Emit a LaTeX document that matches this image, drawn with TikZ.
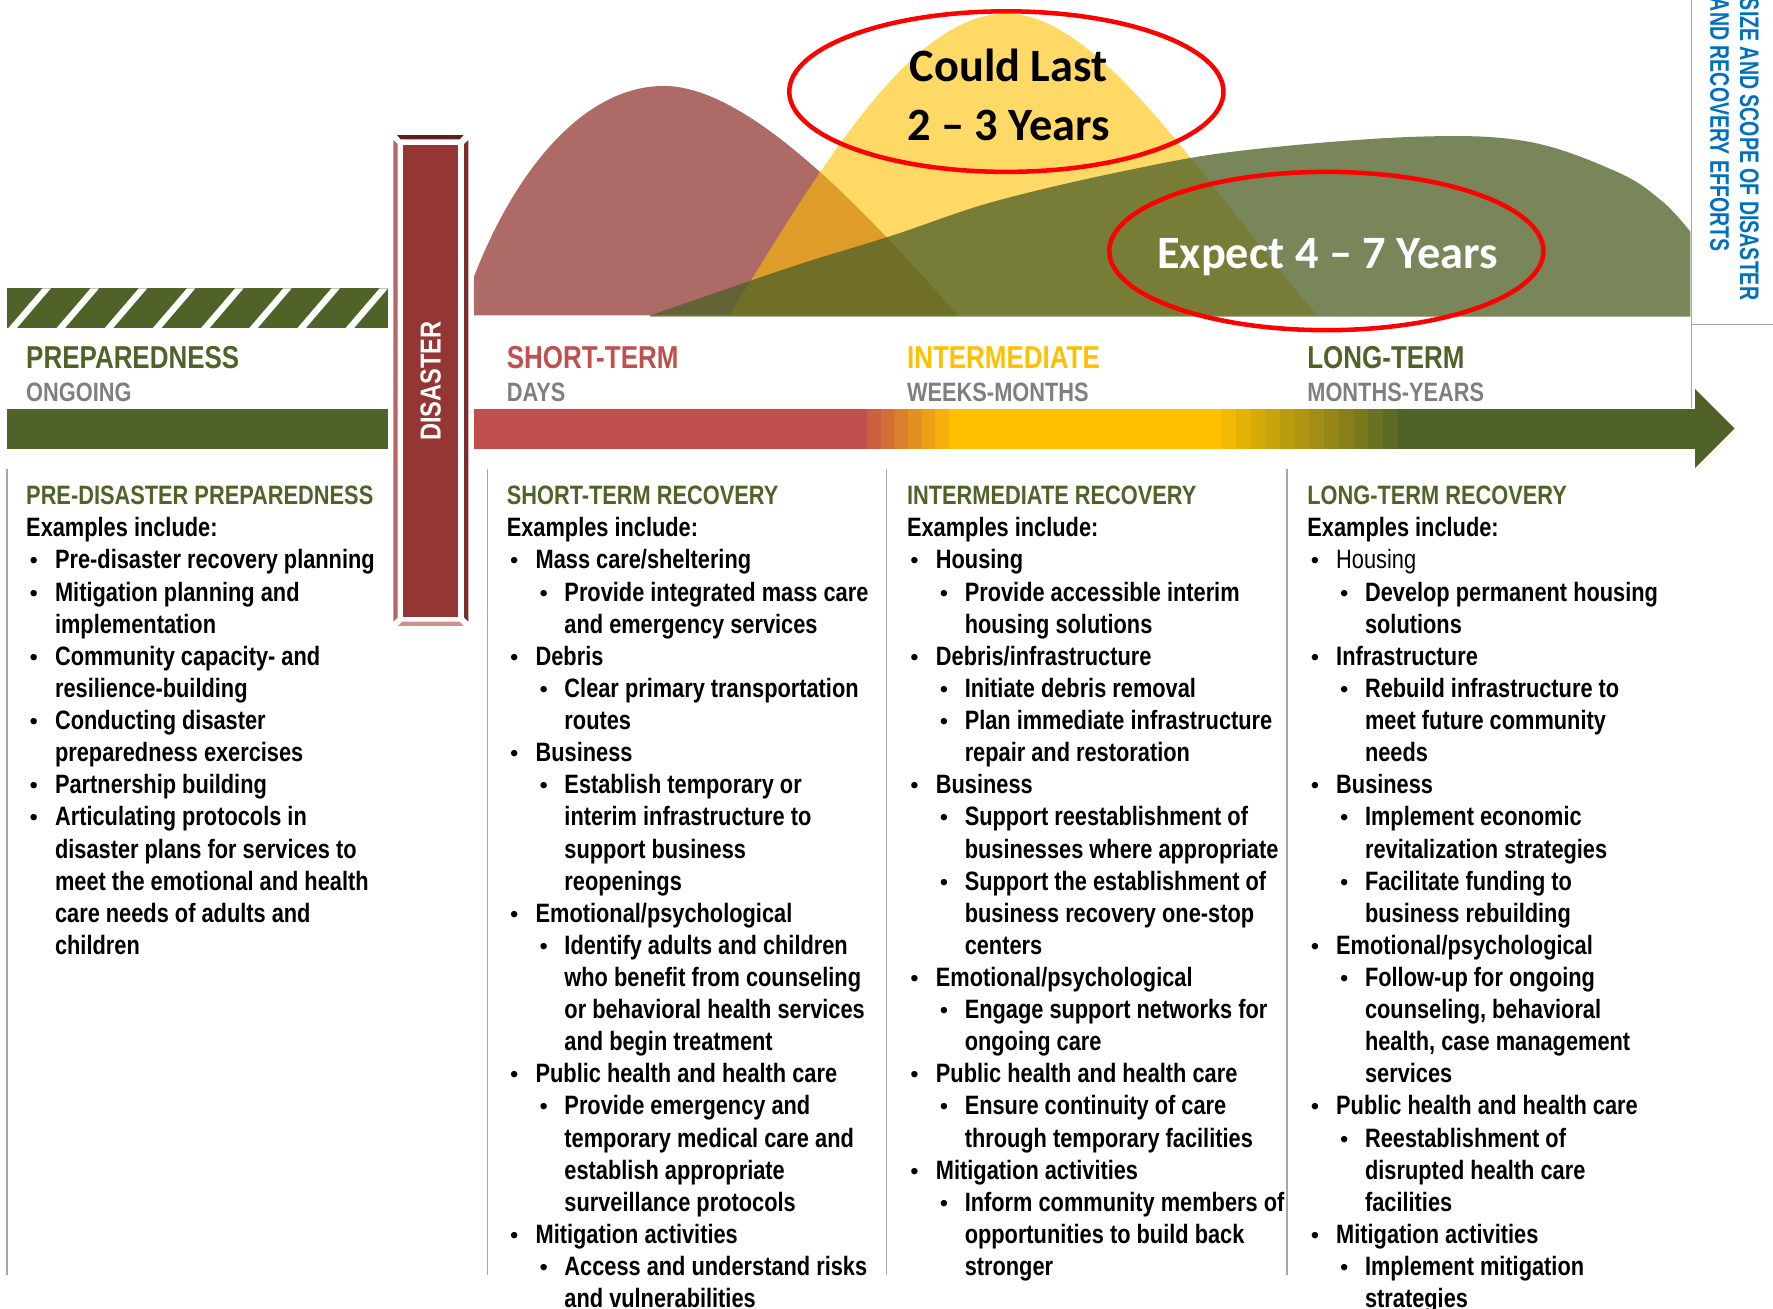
\documentclass[tikz,border=0pt]{standalone}
\usepackage{fontspec}
\setmainfont{Liberation Sans}
\newfontfamily\narfont{Liberation Sans}[FakeStretch=0.82]
\newfontfamily\narrowerfont{Liberation Sans}[FakeStretch=0.73]
\newfontfamily\calfont{Carlito}
\definecolor{dgreen}{HTML}{4F6228}
\definecolor{sred}{HTML}{C0504D}
\definecolor{syel}{HTML}{FFC000}
\definecolor{sgray}{HTML}{7F7F7F}
\definecolor{sblue}{HTML}{0070C0}
\definecolor{hillred}{RGB}{174,106,103}
\definecolor{pillar}{HTML}{943634}
\definecolor{pilL}{RGB}{183,101,101}
\definecolor{pilR}{RGB}{123,44,43}
\definecolor{pilT}{RGB}{94,30,30}
\definecolor{pilB}{RGB}{208,144,144}
\definecolor{sepgray}{HTML}{A6A6A6}
\tikzset{
  body/.style={font=\narfont\bfseries\fontsize{23.5}{28.4}\selectfont, inner sep=0pt, anchor=base west, text=black},
  bul/.style={font=\fontsize{21}{28}\selectfont, inner sep=0pt, anchor=base west, text=black},
  big/.style={font=\narfont\bfseries\fontsize{28}{30}\selectfont, inner sep=0pt, anchor=base west},
  sub/.style={font=\narfont\bfseries\fontsize{23.5}{28}\selectfont, inner sep=0pt, anchor=base west, text=sgray},
  sep/.style={draw=sepgray, line width=1.5pt},
  oval/.style={draw=red, line width=4pt},
  ovtxt/.style={font=\calfont\bfseries\fontsize{41}{52}\selectfont, inner sep=0pt, align=center},
}
\newcommand\Lh[4]{\node[body,text=dgreen] (#1) at (#2,{446.4+28.4*(#3)}) {#4};}
\newcommand\Lx[4]{\node[body] (#1) at (#2,{446.4+28.4*(#3)}) {#4};}
\newcommand\Lb[4]{\node[bul] (#1b) at ({#2+3},{446.4+28.4*(#3)}) {•};\node[body] (#1) at ({#2+25.5},{446.4+28.4*(#3)}) {#4};}
\newcommand\Lc[4]{\node[body] (#1) at ({#2+25.5},{446.4+28.4*(#3)}) {#4};}
\newcommand\Ls[4]{\node[bul] (#1b) at ({#2+29},{446.4+28.4*(#3)}) {•};\node[body] (#1) at ({#2+51},{446.4+28.4*(#3)}) {#4};}
\newcommand\Lt[4]{\node[body] (#1) at ({#2+51},{446.4+28.4*(#3)}) {#4};}
\begin{document}
\begin{tikzpicture}[x=1pt,y=-1pt]
\useasboundingbox (0,0) rectangle (1568,1157);
% ---------- hills ----------
\fill[hillred] (419,279) -- (419,245) .. controls (460,140) and (522,76) .. (587,76) .. controls (660,76) and (760,180) .. (847,279) -- cycle;
\fill[syel,opacity=0.6] (645,279) .. controls (725,150) and (805,12) .. (890,12) .. controls (975,12) and (1070,170) .. (1165,279) -- cycle;
\fill[dgreen,opacity=0.77] plot[smooth,tension=0.6] coordinates {(575,279) (700,236) (790,208) (880,178) (1000,150) (1100,133) (1250,121) (1350,125) (1430,152) (1470,178) (1495,205)} -- (1495,280) -- (575,280) -- cycle;
% ---------- ellipses ----------
\draw[oval] (890,81) ellipse [x radius=192, y radius=71];
\node[ovtxt,text=black] (could) at (892,84) {Could Last\\2 – 3 Years};
\draw[oval] (1173,222) ellipse [x radius=192, y radius=70];
\node[ovtxt,text=white] (expect) at (1174,227) {Expect 4 – 7 Years};
% ---------- right axis ----------
\draw[sep] (1496,0) -- (1496,361);
\draw[sep] (1496,287) -- (1568,287);
\node[font=\narrowerfont\bfseries\fontsize{23.7}{25}\selectfont, text=sblue, inner sep=0pt, anchor=base west, rotate=-90] (axisA) at (1539,-2) {SIZE AND SCOPE OF DISASTER};
\node[font=\narrowerfont\bfseries\fontsize{23.7}{25}\selectfont, text=sblue, inner sep=0pt, anchor=base west, rotate=-90] (axisB) at (1512.5,-2) {AND RECOVERY EFFORTS};
% ---------- preparedness bars ----------
\begin{scope}
\clip (6,255) rectangle (343,290);
\fill[dgreen] (6,255) rectangle (343,290);
\foreach \k in {0,...,8} {
  \fill[white] ({7.5+42.6*\k},290) -- ({15+42.6*\k},290) -- ({45+42.6*\k},255) -- ({37.5+42.6*\k},255) -- cycle;
}
\end{scope}
\fill[dgreen] (6,362) rectangle (343,397);
% ---------- timeline bar ----------
\fill[sred] (419,362) rectangle (767.5,397);
\foreach \k in {1,...,6} {
  \pgfmathtruncatemacro\p{100*\k/7}
  \fill[syel!\p!sred] ({767+12*(\k-1)},362) rectangle ({767.5+12*\k},397);
}
\fill[syel] (839,362) rectangle (1080.5,397);
\foreach \k in {1,...,12} {
  \pgfmathtruncatemacro\p{100*\k/13}
  \fill[dgreen!\p!syel] ({1080+13*(\k-1)},362) rectangle ({1080.5+13*\k},397);
}
\fill[dgreen] (1236,362) rectangle (1500,397);
\fill[dgreen] (1499,344) -- (1534,379) -- (1499,414) -- cycle;
% ---------- disaster pillar ----------
\fill[pilT] (351,119.4) -- (410,119.4) -- (406.5,123.3) -- (354.5,123.3) -- cycle;
\fill[pilL] (347.9,123.8) -- (351.7,127.4) -- (351.7,546) -- (347.9,549.8) -- cycle;
\fill[pilR] (414.2,123.8) -- (410.4,127.4) -- (410.4,546) -- (414.2,549.8) -- cycle;
\fill[pillar] (356.7,128.2) rectangle (405.3,545.4);
\fill[pilB] (355.5,549.8) -- (406.5,549.8) -- (410,553.6) -- (352,553.6) -- cycle;
\node[font=\narfont\bfseries\fontsize{25.5}{28}\selectfont, text=white, inner sep=0pt, rotate=90] (dis) at (381,337) {DISASTER};
% ---------- phase labels ----------
\node[big,text=dgreen] (prep) at (23,326) {PREPAREDNESS};
\node[sub] (ongoing) at (23,355.5) {ONGOING};
\node[big,text=sred] (short) at (448,326) {SHORT-TERM};
\node[sub] (days) at (448,355.5) {DAYS};
\node[big,text=syel] (inter) at (802,326) {INTERMEDIATE};
\node[sub] (weeks) at (802,355.5) {WEEKS-MONTHS};
\node[big,text=dgreen] (long) at (1156,326) {LONG-TERM};
\node[sub] (months) at (1156,355.5) {MONTHS-YEARS};
% ---------- separators ----------
\draw[sep] (6,415) -- (6,1128);
\draw[sep] (431,415) -- (431,1128);
\draw[sep] (784,415) -- (784,1128);
\draw[sep] (1138,415) -- (1138,1128);
% ---------- column 1 ----------
\Lh{a0}{23}{0}{PRE-DISASTER PREPAREDNESS}
\Lx{a1}{23}{1}{Examples include:}
\Lb{a2}{23}{2}{Pre-disaster recovery planning}
\Lb{a3}{23}{3}{Mitigation planning and}
\Lc{a4}{23}{4}{implementation}
\Lb{a5}{23}{5}{Community capacity- and}
\Lc{a6}{23}{6}{resilience-building}
\Lb{a7}{23}{7}{Conducting disaster}
\Lc{a8}{23}{8}{preparedness exercises}
\Lb{a9}{23}{9}{Partnership building}
\Lb{a10}{23}{10}{Articulating protocols in}
\Lc{a11}{23}{11}{disaster plans for services to}
\Lc{a12}{23}{12}{meet the emotional and health}
\Lc{a13}{23}{13}{care needs of adults and}
\Lc{a14}{23}{14}{children}
% ---------- column 2 ----------
\Lh{b0}{448}{0}{SHORT-TERM RECOVERY}
\Lx{b1}{448}{1}{Examples include:}
\Lb{b2}{448}{2}{Mass care/sheltering}
\Ls{b3}{448}{3}{Provide integrated mass care}
\Lt{b4}{448}{4}{and emergency services}
\Lb{b5}{448}{5}{Debris}
\Ls{b6}{448}{6}{Clear primary transportation}
\Lt{b7}{448}{7}{routes}
\Lb{b8}{448}{8}{Business}
\Ls{b9}{448}{9}{Establish temporary or}
\Lt{b10}{448}{10}{interim infrastructure to}
\Lt{b11}{448}{11}{support business}
\Lt{b12}{448}{12}{reopenings}
\Lb{b13}{448}{13}{Emotional/psychological}
\Ls{b14}{448}{14}{Identify adults and children}
\Lt{b15}{448}{15}{who benefit from counseling}
\Lt{b16}{448}{16}{or behavioral health services}
\Lt{b17}{448}{17}{and begin treatment}
\Lb{b18}{448}{18}{Public health and health care}
\Ls{b19}{448}{19}{Provide emergency and}
\Lt{b20}{448}{20}{temporary medical care and}
\Lt{b21}{448}{21}{establish appropriate}
\Lt{b22}{448}{22}{surveillance protocols}
\Lb{b23}{448}{23}{Mitigation activities}
\Ls{b24}{448}{24}{Access and understand risks}
\Lt{b25}{448}{25}{and vulnerabilities}
% ---------- column 3 ----------
\Lh{c0}{802}{0}{INTERMEDIATE RECOVERY}
\Lx{c1}{802}{1}{Examples include:}
\Lb{c2}{802}{2}{Housing}
\Ls{c3}{802}{3}{Provide accessible interim}
\Lt{c4}{802}{4}{housing solutions}
\Lb{c5}{802}{5}{Debris/infrastructure}
\Ls{c6}{802}{6}{Initiate debris removal}
\Ls{c7}{802}{7}{Plan immediate infrastructure}
\Lt{c8}{802}{8}{repair and restoration}
\Lb{c9}{802}{9}{Business}
\Ls{c10}{802}{10}{Support reestablishment of}
\Lt{c11}{802}{11}{businesses where appropriate}
\Ls{c12}{802}{12}{Support the establishment of}
\Lt{c13}{802}{13}{business recovery one-stop}
\Lt{c14}{802}{14}{centers}
\Lb{c15}{802}{15}{Emotional/psychological}
\Ls{c16}{802}{16}{Engage support networks for}
\Lt{c17}{802}{17}{ongoing care}
\Lb{c18}{802}{18}{Public health and health care}
\Ls{c19}{802}{19}{Ensure continuity of care}
\Lt{c20}{802}{20}{through temporary facilities}
\Lb{c21}{802}{21}{Mitigation activities}
\Ls{c22}{802}{22}{Inform community members of}
\Lt{c23}{802}{23}{opportunities to build back}
\Lt{c24}{802}{24}{stronger}
% ---------- column 4 ----------
\Lh{d0}{1156}{0}{LONG-TERM RECOVERY}
\Lx{d1}{1156}{1}{Examples include:}
\Lb{d2}{1156}{2}{\mdseries Housing}
\Ls{d3}{1156}{3}{Develop permanent housing}
\Lt{d4}{1156}{4}{solutions}
\Lb{d5}{1156}{5}{Infrastructure}
\Ls{d6}{1156}{6}{Rebuild infrastructure to}
\Lt{d7}{1156}{7}{meet future community}
\Lt{d8}{1156}{8}{needs}
\Lb{d9}{1156}{9}{Business}
\Ls{d10}{1156}{10}{Implement economic}
\Lt{d11}{1156}{11}{revitalization strategies}
\Ls{d12}{1156}{12}{Facilitate funding to}
\Lt{d13}{1156}{13}{business rebuilding}
\Lb{d14}{1156}{14}{Emotional/psychological}
\Ls{d15}{1156}{15}{Follow-up for ongoing}
\Lt{d16}{1156}{16}{counseling, behavioral}
\Lt{d17}{1156}{17}{health, case management}
\Lt{d18}{1156}{18}{services}
\Lb{d19}{1156}{19}{Public health and health care}
\Ls{d20}{1156}{20}{Reestablishment of}
\Lt{d21}{1156}{21}{disrupted health care}
\Lt{d22}{1156}{22}{facilities}
\Lb{d23}{1156}{23}{Mitigation activities}
\Ls{d24}{1156}{24}{Implement mitigation}
\Lt{d25}{1156}{25}{strategies}
\end{tikzpicture}
\end{document}
